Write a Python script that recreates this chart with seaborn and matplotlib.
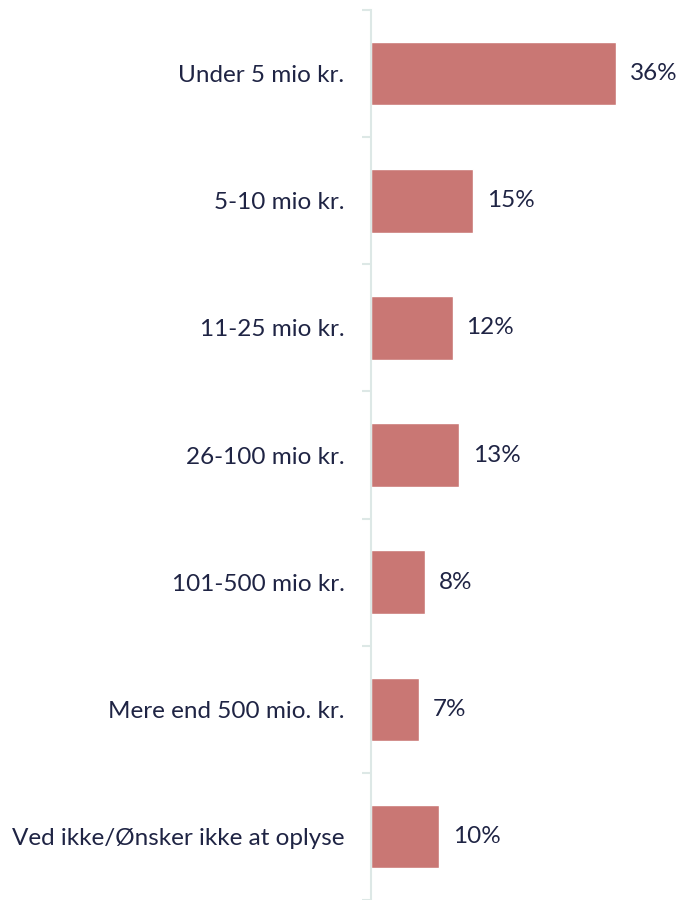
import matplotlib
matplotlib.use("Agg")
import matplotlib.pyplot as plt
import seaborn as sns
import pandas as pd
import numpy as np

categories = ["Under 5 mio kr.", "5-10 mio kr.", "11-25 mio kr.", "26-100 mio kr.",
              "101-500 mio kr.", "Mere end 500 mio. kr.", "Ved ikke/Ønsker ikke at oplyse"]
values = [36, 15, 12, 13, 8, 7, 10]
value_labels = ["36%", "15%", "12%", "13%", "8%", "7%", "10%"]

sns.set_style("white")
plt.rcParams['font.family'] = ['Lato', 'DejaVu Sans']

df = pd.DataFrame({"cat": categories, "val": values})
fig = plt.figure(figsize=(6.83, 9.0), dpi=100)
ax = fig.add_axes([371/683, 0.0, 1 - 371/683, 1 - 10/900])
sns.barplot(data=df, x="val", y="cat", color="#c97774", width=0.5, saturation=1, ax=ax)

ax.set_xlim(0, 312/6.8)
ax.set_ylim(len(categories) - 0.5, -0.5)
textc = "#1f2444"
for i, (v, lab) in enumerate(zip(values, value_labels)):
    ax.annotate(lab, (v, i), xytext=(10, 0), textcoords="offset points", va="center", ha="left",
                fontsize=17.5, color=textc)

for s in ["top", "right", "bottom"]:
    ax.spines[s].set_visible(False)
ax.spines["left"].set_color("#dde8e6")
ax.spines["left"].set_linewidth(1.5)
ax.set_xticks([])
ax.set_xlabel("")
ax.set_ylabel("")
ax.tick_params(axis="y", which="major", left=False, length=0, pad=19, labelsize=17.5, labelcolor=textc)
ax.set_yticks(np.arange(-0.5, len(categories), 1), minor=True)
ax.tick_params(axis="y", which="minor", left=True, length=6.5, width=1.5, color="#dde8e6")
fig.savefig("out.png", dpi=100)
